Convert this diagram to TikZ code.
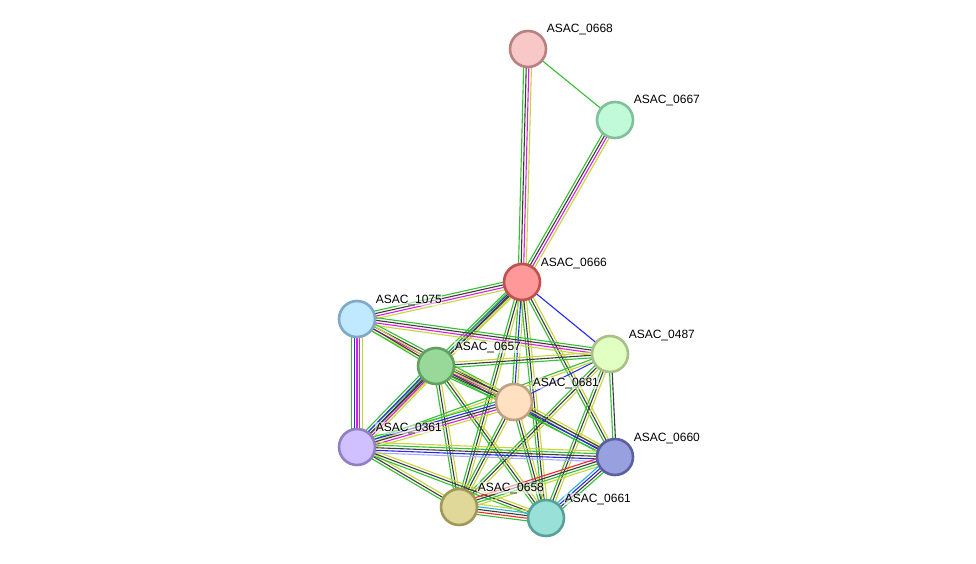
\documentclass[tikz,border=0pt]{standalone}
\usepackage{fontspec}
\setmainfont{Liberation Sans}
\usetikzlibrary{calc,backgrounds}

\definecolor{eg}{HTML}{33C033}
\definecolor{ek}{HTML}{3C3C3C}
\definecolor{em}{HTML}{DC1EDC}
\definecolor{ey}{HTML}{C6D63A}
\definecolor{eb}{HTML}{2828F5}
\definecolor{er}{HTML}{F52828}
\definecolor{ec}{HTML}{28B4E1}
\definecolor{el}{HTML}{AAAAFF}

% parallel strands between two proteins
\newcommand\bundle[3]{%
  \foreach \col [count=\i] in {#3} {\xdef\nlines{\i}}%
  \foreach \col [count=\i] in {#3} {%
    \pgfmathsetmacro\off{(\i-(\nlines+1)/2)*2.6}%
    \draw[strand,\col] ($(#1)!\off pt!90:(#2)$) -- ($(#2)!\off pt!-90:(#1)$);
  }}

\begin{document}
\begin{tikzpicture}[x=1pt,y=-1pt,
    prot/.style={circle,draw,line width=2.6pt,minimum size=36pt,inner sep=0pt},
    label node/.style={anchor=base west,inner sep=0.6pt,font=\fontsize{12}{14}\selectfont,
      fill=white,fill opacity=0.55,text opacity=1},
    strand/.style={line width=1.1pt}]

  \useasboundingbox (0,0) rectangle (976,564);

  \node[prot,fill={rgb,255:red,248;green,200;blue,200},draw={rgb,255:red,184;green,128;blue,128}] (n0668) at (528,49) {};
  \node[prot,fill={rgb,255:red,192;green,250;blue,216},draw={rgb,255:red,128;green,192;blue,152}] (n0667) at (615,120) {};
  \node[prot,fill={rgb,255:red,255;green,152;blue,152},draw={rgb,255:red,192;green,80;blue,80}] (n0666) at (522,282) {};
  \node[prot,fill={rgb,255:red,192;green,232;blue,255},draw={rgb,255:red,128;green,168;blue,200}] (n1075) at (357,319) {};
  \node[prot,fill={rgb,255:red,224;green,255;blue,192},draw={rgb,255:red,168;green,192;blue,136}] (n0487) at (610,354) {};
  \node[prot,fill={rgb,255:red,152;green,216;blue,152},draw={rgb,255:red,96;green,160;blue,96}] (n0657) at (436,366) {};
  \node[prot,fill={rgb,255:red,255;green,224;blue,192},draw={rgb,255:red,192;green,160;blue,128}] (n0681) at (514,402) {};
  \node[prot,fill={rgb,255:red,208;green,192;blue,255},draw={rgb,255:red,144;green,128;blue,192}] (n0361) at (357,447) {};
  \node[prot,fill={rgb,255:red,152;green,160;blue,224},draw={rgb,255:red,88;green,96;blue,160}] (n0660) at (615,457) {};
  \node[prot,fill={rgb,255:red,224;green,216;blue,152},draw={rgb,255:red,160;green,152;blue,88}] (n0658) at (459,507) {};
  \node[prot,fill={rgb,255:red,152;green,224;blue,216},draw={rgb,255:red,88;green,160;blue,152}] (n0661) at (546,518) {};

  \node[label node] (l0668) at ($(n0668)+(18,-16)$) {ASAC\_0668};
  \node[label node] (l0667) at ($(n0667)+(18,-16)$) {ASAC\_0667};
  \node[label node] (l0666) at ($(n0666)+(18,-16)$) {ASAC\_0666};
  \node[label node] (l1075) at ($(n1075)+(18,-16)$) {ASAC\_1075};
  \node[label node] (l0487) at ($(n0487)+(18,-16)$) {ASAC\_0487};
  \node[label node] (l0657) at ($(n0657)+(18,-16)$) {ASAC\_0657};
  \node[label node] (l0681) at ($(n0681)+(18,-16)$) {ASAC\_0681};
  \node[label node] (l0361) at ($(n0361)+(18,-16)$) {ASAC\_0361};
  \node[label node] (l0660) at ($(n0660)+(18,-16)$) {ASAC\_0660};
  \node[label node] (l0658) at ($(n0658)+(18,-16)$) {ASAC\_0658};
  \node[label node] (l0661) at ($(n0661)+(18,-16)$) {ASAC\_0661};

  \begin{scope}[on background layer]
    \fill[white] (0,0) rectangle (976,564);
    \bundle{n0668}{n0666}{eg,ek,em,ey}
    \bundle{n0668}{n0667}{eg}
    \bundle{n0667}{n0666}{eg,ek,em,ey}
    \bundle{n0666}{n1075}{eg,ek,em,ey}
    \bundle{n0666}{n0487}{eb}
    \bundle{n0666}{n0657}{eg,eb,ek,ey}
    \bundle{n0666}{n0681}{eg,eb,ey}
    \bundle{n0666}{n0361}{eg,ek,ey}
    \bundle{n0666}{n0658}{eg,ek,ey}
    \bundle{n0666}{n0661}{eg,ek,ey}
    \bundle{n0666}{n0660}{eg,ek,ey}
    \bundle{n1075}{n0487}{ey,em,ek,eg}
    \bundle{n1075}{n0681}{ey,em,ek,eg}
    \bundle{n1075}{n0657}{eg,ek,ey}
    \bundle{n1075}{n0361}{eg,eb,em,em,ey}
    \bundle{n0657}{n0487}{eg,ek,ey}
    \bundle{n0657}{n0681}{eg,ek,em,ek,ey}
    \bundle{n0657}{n0361}{eg,eb,ek,em,ey}
    \bundle{n0657}{n0658}{eg,ek,ey}
    \bundle{n0657}{n0661}{eg,ek,ey}
    \bundle{n0657}{n0660}{eg,ek,ey}
    \bundle{n0487}{n0681}{eb}
    \bundle{n0487}{n0361}{eg,ey}
    \bundle{n0487}{n0660}{eg,ek}
    \bundle{n0487}{n0658}{eg,ek,ey}
    \bundle{n0487}{n0661}{eg,ek,ey}
    \bundle{n0681}{n0361}{eg,eb,ek,em,ey}
    \bundle{n0681}{n0660}{eg,eb,ek,ey}
    \bundle{n0681}{n0658}{eg,ek,ey}
    \bundle{n0681}{n0661}{eg,ek,ey}
    \bundle{n0361}{n0660}{el,eb,ek,eg,ey}
    \bundle{n0361}{n0658}{eg,ek,ey}
    \bundle{n0361}{n0661}{eg,ek,ey}
    \bundle{n0660}{n0658}{er,ek,eg,ey}
    \bundle{n0660}{n0661}{ec,eb,ek,eg}
    \bundle{n0658}{n0661}{eg,er,ek,ec,ey}
  \end{scope}
\end{tikzpicture}
\end{document}
